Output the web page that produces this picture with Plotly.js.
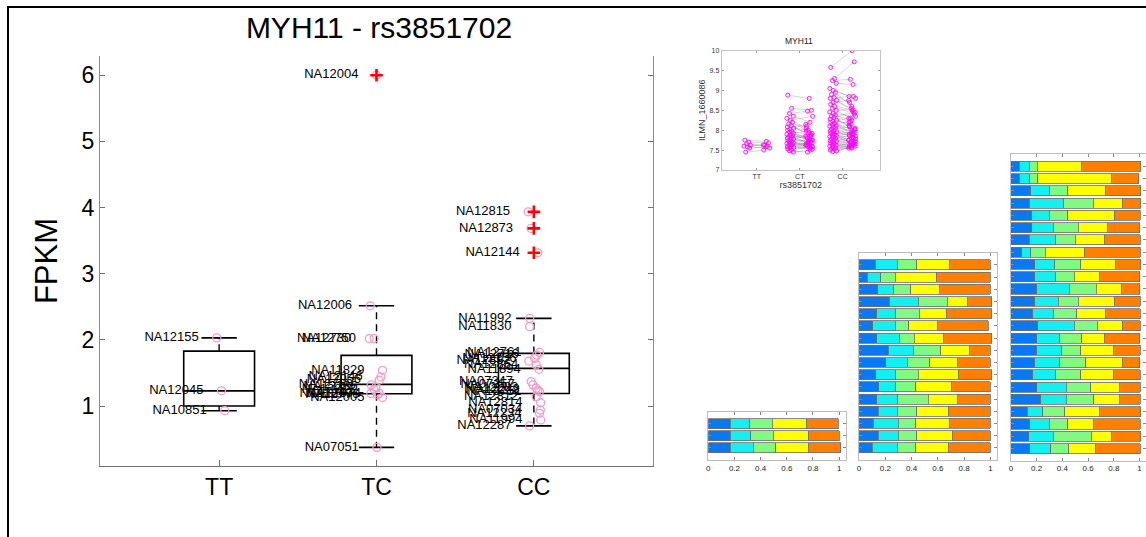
<!DOCTYPE html>
<html><head><meta charset="utf-8">
<script src="https://cdn.plot.ly/plotly-3.0.1.min.js"></script>
<style>html,body{margin:0;padding:0;background:#fff}#chart{width:1146px;height:537px}</style>
</head><body><div id="chart"></div>
<script>
// ================= DATA =================
// main boxplot (FPKM by genotype)
const groups = ['TT', 'TC', 'CC'];
const boxQ1 = [1.00, 1.186, 1.19];
const boxMedian = [1.23, 1.328, 1.57];
const boxQ3 = [1.83, 1.766, 1.796];
const whiskerLow = [0.93, 0.376, 0.70];
const whiskerHigh = [2.03, 2.515, 2.325];

const ttNames = ['NA12155', 'NA12045', 'NA10851'];
const ttFpkm = [2.03, 1.23, 0.93];
const ttJitter = [-0.015, 0.015, 0.036];

const tcNames = ['NA12004', 'NA12006', 'NA12730', 'NA12750', 'NA11829', 'NA12146', 'NA12056', 'NA12760', 'NA12236', 'NA12813', 'NA12874', 'NA11840', 'NA12776', 'NA12005', 'NA07051'];
const tcFpkm = [6.00, 2.515, 2.02, 2.02, 1.54, 1.44, 1.39, 1.32, 1.29, 1.25, 1.19, 1.19, 1.17, 1.13, 0.376];
const tcJitter = [0.0, -0.04, -0.046, -0.015, 0.038, 0.028, 0.017, -0.034, -0.004, -0.015, 0.017, -0.036, 0.006, 0.038, 0.003];

const ccNames = ['NA12815', 'NA12873', 'NA12144', 'NA11992', 'NA11830', 'NA12761', 'NA12716', 'NA12156', 'NA12892', 'NA12864', 'NA11894', 'NA07347', 'NA07357', 'NA12283', 'NA12249', 'NA12751', 'NA12812', 'NA12814', 'NA07034', 'NA12234', 'NA11994', 'NA12287'];
const ccFpkm = [3.935, 3.685, 3.316, 2.325, 2.20, 1.81, 1.77, 1.72, 1.68, 1.62, 1.555, 1.37, 1.32, 1.27, 1.24, 1.22, 1.14, 1.05, 0.94, 0.89, 0.79, 0.70];
const ccJitter = [-0.036, -0.017, 0.025, -0.027, -0.027, 0.036, 0.019, 0.004, -0.032, 0.015, 0.032, -0.017, -0.006, 0.015, 0.025, 0.036, 0.015, 0.043, 0.041, 0.036, 0.043, -0.027];

const outlierNames = ['NA12004', 'NA12815', 'NA12873', 'NA12144'];

// inset scatter (ILMN_1660086 by rs3851702), paired columns
const insetGroups = ['TT', 'CT', 'CC'];
const ttLeft = [7.75, 7.70, 7.66, 7.62, 7.60, 7.58, 7.55, 7.45];
const ttRight = [7.72, 7.68, 7.62, 7.60, 7.63, 7.55, 7.58, 7.50];
const ctLeft = [8.88, 8.55, 8.42, 8.35, 8.30, 8.25, 8.20, 8.15, 8.12, 8.08, 8.05, 8.02, 8.00, 7.97, 7.95, 7.92, 7.90, 7.88, 7.86, 7.84, 7.82, 7.80, 7.78, 7.76, 7.74, 7.72, 7.70, 7.69, 7.67, 7.65, 7.64, 7.62, 7.60, 7.58, 7.57, 7.55, 7.53, 7.50, 7.48, 7.45];
const ctRight = [8.80, 8.50, 8.48, 8.20, 8.05, 8.35, 7.95, 8.10, 7.85, 8.00, 7.92, 8.15, 7.78, 7.88, 7.80, 7.70, 7.98, 7.75, 7.65, 7.82, 7.90, 7.72, 7.68, 7.85, 7.62, 7.76, 7.60, 7.74, 7.66, 7.58, 7.70, 7.64, 7.55, 7.68, 7.52, 7.62, 7.57, 7.60, 7.45, 7.50];
const ccLeft = [9.58, 9.30, 9.25, 9.18, 9.05, 9.00, 8.95, 8.90, 8.82, 8.80, 8.75, 8.70, 8.65, 8.60, 8.55, 8.50, 8.46, 8.42, 8.38, 8.35, 8.32, 8.28, 8.25, 8.22, 8.20, 8.17, 8.14, 8.12, 8.10, 8.07, 8.05, 8.03, 8.00, 7.98, 7.96, 7.94, 7.92, 7.90, 7.88, 7.86, 7.84, 7.82, 7.80, 7.78, 7.76, 7.74, 7.72, 7.70, 7.68, 7.66, 7.64, 7.62, 7.60, 7.58, 7.56, 7.54, 7.52, 7.50, 7.48, 7.46];
const ccRight = [10.0, 9.72, 9.28, 9.15, 8.85, 8.80, 8.60, 8.70, 8.85, 8.55, 8.45, 8.75, 8.50, 8.40, 8.30, 8.52, 8.20, 8.35, 8.25, 8.10, 8.45, 8.15, 8.05, 8.30, 7.95, 8.00, 8.22, 7.90, 8.12, 7.85, 8.00, 8.08, 7.80, 7.92, 8.02, 7.75, 7.88, 7.95, 7.70, 7.82, 7.90, 7.78, 7.72, 7.86, 7.68, 7.80, 7.65, 7.75, 7.62, 7.70, 7.60, 7.66, 7.58, 7.72, 7.55, 7.62, 7.64, 7.57, 7.60, 7.55];

// stacked bar panels: five components per row, rows listed top to bottom
const componentColors = ['#0a78f0', '#14f0f0', '#82fa82', '#ffff00', '#ff8000'];
const bar1C1 = [0.166, 0.166, 0.166];
const bar1C2 = [0.152, 0.157, 0.178];
const bar1C3 = [0.171, 0.173, 0.170];
const bar1C4 = [0.262, 0.272, 0.249];
const bar1C5 = [0.244, 0.232, 0.250];

const bar2C1 = [0.122, 0.063, 0.144, 0.231, 0.134, 0.104, 0.134, 0.223, 0.203, 0.127, 0.152, 0.134, 0.145, 0.110, 0.145, 0.100];
const bar2C2 = [0.170, 0.102, 0.122, 0.221, 0.147, 0.170, 0.172, 0.190, 0.164, 0.154, 0.129, 0.160, 0.145, 0.190, 0.155, 0.190];
const bar2C3 = [0.147, 0.109, 0.127, 0.220, 0.178, 0.106, 0.114, 0.208, 0.173, 0.171, 0.150, 0.233, 0.150, 0.130, 0.140, 0.140];
const bar2C4 = [0.253, 0.312, 0.218, 0.155, 0.203, 0.216, 0.226, 0.223, 0.207, 0.303, 0.274, 0.220, 0.240, 0.260, 0.270, 0.250];
const bar2C5 = [0.308, 0.414, 0.389, 0.183, 0.348, 0.388, 0.364, 0.153, 0.250, 0.255, 0.292, 0.250, 0.320, 0.310, 0.290, 0.320];

const bar3C1 = [0.065, 0.065, 0.153, 0.143, 0.161, 0.161, 0.143, 0.086, 0.187, 0.187, 0.200, 0.187, 0.169, 0.208, 0.200, 0.200, 0.187, 0.169, 0.200, 0.231, 0.127, 0.148, 0.140, 0.148];
const bar3C2 = [0.078, 0.083, 0.145, 0.269, 0.137, 0.168, 0.207, 0.070, 0.155, 0.163, 0.253, 0.180, 0.160, 0.283, 0.181, 0.194, 0.194, 0.181, 0.232, 0.201, 0.119, 0.150, 0.189, 0.160];
const bar3C3 = [0.062, 0.059, 0.142, 0.227, 0.142, 0.193, 0.149, 0.111, 0.201, 0.141, 0.212, 0.155, 0.181, 0.179, 0.168, 0.149, 0.201, 0.193, 0.189, 0.212, 0.173, 0.142, 0.297, 0.142];
const bar3C4 = [0.344, 0.574, 0.297, 0.225, 0.367, 0.225, 0.225, 0.307, 0.272, 0.200, 0.194, 0.280, 0.225, 0.194, 0.175, 0.251, 0.282, 0.251, 0.225, 0.202, 0.272, 0.199, 0.155, 0.210];
const bar3C5 = [0.461, 0.214, 0.273, 0.146, 0.199, 0.253, 0.282, 0.432, 0.193, 0.309, 0.141, 0.204, 0.271, 0.142, 0.276, 0.212, 0.136, 0.212, 0.160, 0.160, 0.319, 0.367, 0.229, 0.346];

// ================= LAYOUT HELPERS =================
const W = 1146, H = 537;
const domX = (a, b) => [a / W, b / W];
const domY = (top, bottom) => [1 - bottom / H, 1 - top / H];
const FONT = 'Liberation Sans, Arial, Helvetica, sans-serif';

const traces = [];

// ---------- main boxplot ----------
const boxHalf = 0.225, capHalf = 0.1125, labelGap = 0.115;
const boxX = [], boxY = [], capX = [], capY = [], whX = [], whY = [];
groups.forEach((g, i) => {
  const c = i + 1;
  boxX.push(c - boxHalf, c + boxHalf, c + boxHalf, c - boxHalf, c - boxHalf, null, c - boxHalf, c + boxHalf, null);
  boxY.push(boxQ1[i], boxQ1[i], boxQ3[i], boxQ3[i], boxQ1[i], null, boxMedian[i], boxMedian[i], null);
  capX.push(c - capHalf, c + capHalf, null, c - capHalf, c + capHalf, null);
  capY.push(whiskerHigh[i], whiskerHigh[i], null, whiskerLow[i], whiskerLow[i], null);
  whX.push(c, c, null, c, c, null);
  whY.push(boxQ3[i], whiskerHigh[i], null, boxQ1[i], whiskerLow[i], null);
});
traces.push({x: whX, y: whY, mode: 'lines', line: {color: '#000', width: 1.4, dash: '7px,5px'}, hoverinfo: 'skip', showlegend: false});
traces.push({x: boxX, y: boxY, mode: 'lines', line: {color: '#000', width: 1.6}, hoverinfo: 'skip', showlegend: false});
traces.push({x: capX, y: capY, mode: 'lines', line: {color: '#000', width: 1.6}, hoverinfo: 'skip', showlegend: false});

const groupSets = [[ttNames, ttFpkm, ttJitter], [tcNames, tcFpkm, tcJitter], [ccNames, ccFpkm, ccJitter]];
const ptX = [], ptY = [], lbX = [], lbY = [], lbT = [], outX = [], outY = [];
groupSets.forEach((set, i) => {
  const [names, vals, jit] = set;
  names.forEach((n, k) => {
    ptX.push(i + 1 + jit[k]); ptY.push(vals[k]);
    lbX.push(i + 1 + jit[k] - labelGap); lbY.push(vals[k]); lbT.push(n);
    if (outlierNames.includes(n)) { outX.push(i + 1); outY.push(vals[k]); }
  });
});
traces.push({x: ptX, y: ptY, mode: 'markers', marker: {symbol: 'circle-open', size: 8, color: '#f59ac8', line: {width: 1.3, color: '#f59ac8'}}, hoverinfo: 'skip', showlegend: false});
traces.push({x: outX, y: outY, mode: 'markers', marker: {symbol: 'cross-thin', size: 9, color: '#ff0000', line: {width: 2.6, color: '#ff0000'}}, hoverinfo: 'skip', showlegend: false});
traces.push({x: lbX, y: lbY, mode: 'text', text: lbT, textposition: 'middle left', textfont: {family: FONT, size: 13, color: '#000'}, cliponaxis: false, hoverinfo: 'skip', showlegend: false});

// ---------- inset scatter ----------
const jitterPattern = [-0.06, 0.03, -0.02, 0.07, -0.08, 0.0, 0.05, -0.04, 0.02, -0.07, 0.08, -0.01];
const insetSets = [[ttLeft, ttRight], [ctLeft, ctRight], [ccLeft, ccRight]];
const lnX = [], lnY = [], mkX = [], mkY = [];
insetSets.forEach((pair, i) => {
  const [L, R] = pair;
  L.forEach((v, k) => {
    const xl = i + 1 - 0.22 + jitterPattern[k % jitterPattern.length];
    const xr = i + 1 + 0.22 + jitterPattern[(k + 5) % jitterPattern.length];
    lnX.push(xl, xr, null); lnY.push(v, R[k], null);
    mkX.push(xl, xr); mkY.push(v, R[k]);
  });
});
traces.push({x: lnX, y: lnY, xaxis: 'x2', yaxis: 'y2', mode: 'lines', line: {color: 'rgba(110,110,110,0.55)', width: 0.5}, hoverinfo: 'skip', showlegend: false});
traces.push({x: mkX, y: mkY, xaxis: 'x2', yaxis: 'y2', mode: 'markers', marker: {symbol: 'circle-open', size: 4, color: '#ff00ff', line: {width: 0.9, color: '#ff00ff'}}, hoverinfo: 'skip', showlegend: false});

// ---------- stacked bars ----------
function addBars(comps, xa, ya) {
  const n = comps[0].length;
  const rows = comps[0].map((_, r) => n - r);
  comps.forEach((vals, c) => {
    traces.push({type: 'bar', orientation: 'h', x: vals, y: rows, xaxis: xa, yaxis: ya,
      marker: {color: componentColors[c], line: {color: '#6e6e6e', width: 0.8}}, hoverinfo: 'skip', showlegend: false});
  });
  return n;
}
const n1 = addBars([bar1C1, bar1C2, bar1C3, bar1C4, bar1C5], 'x3', 'y3');
const n2 = addBars([bar2C1, bar2C2, bar2C3, bar2C4, bar2C5], 'x4', 'y4');
const n3 = addBars([bar3C1, bar3C2, bar3C3, bar3C4, bar3C5], 'x5', 'y5');

const barX = (dom, anchor) => ({domain: dom, anchor: anchor, range: [0, 1.05], showgrid: false, zeroline: false,
  showline: true, linecolor: '#bdbdbd', linewidth: 1, mirror: 'ticks', ticks: 'inside', ticklen: 3, tickcolor: '#888',
  tickvals: [0, 0.2, 0.4, 0.6, 0.8, 1], ticktext: ['0', '0.2', '0.4', '0.6', '0.8', '1'],
  tickfont: {family: FONT, size: 8, color: '#222'}, fixedrange: true});
const barY = (dom, anchor, n) => ({domain: dom, anchor: anchor, range: [0, n + 1], showgrid: false, zeroline: false,
  showline: true, linecolor: '#bdbdbd', linewidth: 1, mirror: 'ticks', ticks: 'inside', ticklen: 3, tickcolor: '#888',
  tickvals: Array.from({length: n}, (_, k) => k + 1), showticklabels: false, fixedrange: true});

const layout = {
  width: W, height: H, margin: {l: 0, r: 0, t: 0, b: 0}, paper_bgcolor: '#fff', plot_bgcolor: 'rgba(0,0,0,0)',
  font: {family: FONT, color: '#000'}, showlegend: false, barmode: 'stack', bargap: 0.18,
  title: {text: 'MYH11 - rs3851702', x: 379 / W, y: 1 - 27 / H, xanchor: 'center', yanchor: 'middle', xref: 'paper', yref: 'paper',
    font: {family: FONT, size: 30, color: '#000'}},
  xaxis: {domain: domX(100, 653), anchor: 'y', range: [0.243, 3.757], tickvals: [1, 2, 3], ticktext: groups,
    tickfont: {size: 23}, ticks: 'inside', ticklen: 6, tickcolor: '#707070', showline: true, linecolor: '#707070', linewidth: 1.2,
    showgrid: false, zeroline: false, fixedrange: true},
  yaxis: {domain: domY(56, 466), anchor: 'x', range: [0.094, 6.29], tickvals: [1, 2, 3, 4, 5, 6],
    tickfont: {size: 23}, ticks: 'inside', ticklen: 5, tickcolor: '#707070', showline: true, linecolor: '#8a8a8a', linewidth: 1.2,
    mirror: 'ticks', showgrid: false, zeroline: false, fixedrange: true,
    title: {text: 'FPKM', font: {size: 31}, standoff: 14}},
  xaxis2: {domain: domX(721.7, 880), anchor: 'y2', range: [0.18, 3.87], tickvals: [1, 2, 3], ticktext: insetGroups,
    tickfont: {size: 7, color: '#333'}, ticks: 'inside', ticklen: 2, tickcolor: '#999', showline: true, linecolor: '#c4c4c4', linewidth: 1,
    mirror: 'ticks', showgrid: false, zeroline: false, fixedrange: true,
    title: {text: 'rs3851702', font: {size: 9, color: '#333'}, standoff: 1}},
  yaxis2: {domain: domY(50.7, 170), anchor: 'x2', range: [7, 10], tickvals: [7, 7.5, 8, 8.5, 9, 9.5, 10], ticktext: ['7', '7.5', '8', '8.5', '9', '9.5', '10'],
    tickfont: {size: 7, color: '#333'}, ticks: 'inside', ticklen: 2, tickcolor: '#999', showline: true, linecolor: '#c4c4c4', linewidth: 1,
    mirror: 'ticks', showgrid: false, zeroline: false, fixedrange: true,
    title: {text: 'ILMN_1660086', font: {size: 9, color: '#333'}, standoff: 2}},
  xaxis3: barX(domX(708.3, 845.7), 'y3'), yaxis3: barY(domY(411.7, 460), 'x3', n1),
  xaxis4: barX(domX(859, 997), 'y4'), yaxis4: barY(domY(252.8, 460), 'x4', n2),
  xaxis5: barX(domX(1010.9, 1146), 'y5'), yaxis5: barY(domY(154, 460.8), 'x5', n3),
  annotations: [{text: 'MYH11', xref: 'paper', yref: 'paper', x: 799 / W, y: 1 - 41.5 / H, xanchor: 'center', yanchor: 'middle',
    showarrow: false, font: {family: FONT, size: 8.5, color: '#222'}}],
  shapes: [{type: 'rect', xref: 'paper', yref: 'paper', x0: 8 / W, x1: 1.2, y0: -0.2, y1: 1 - 7 / H, line: {color: '#000', width: 2}}]
};

Plotly.newPlot('chart', traces, layout, {staticPlot: true, displayModeBar: false});
</script></body></html>
